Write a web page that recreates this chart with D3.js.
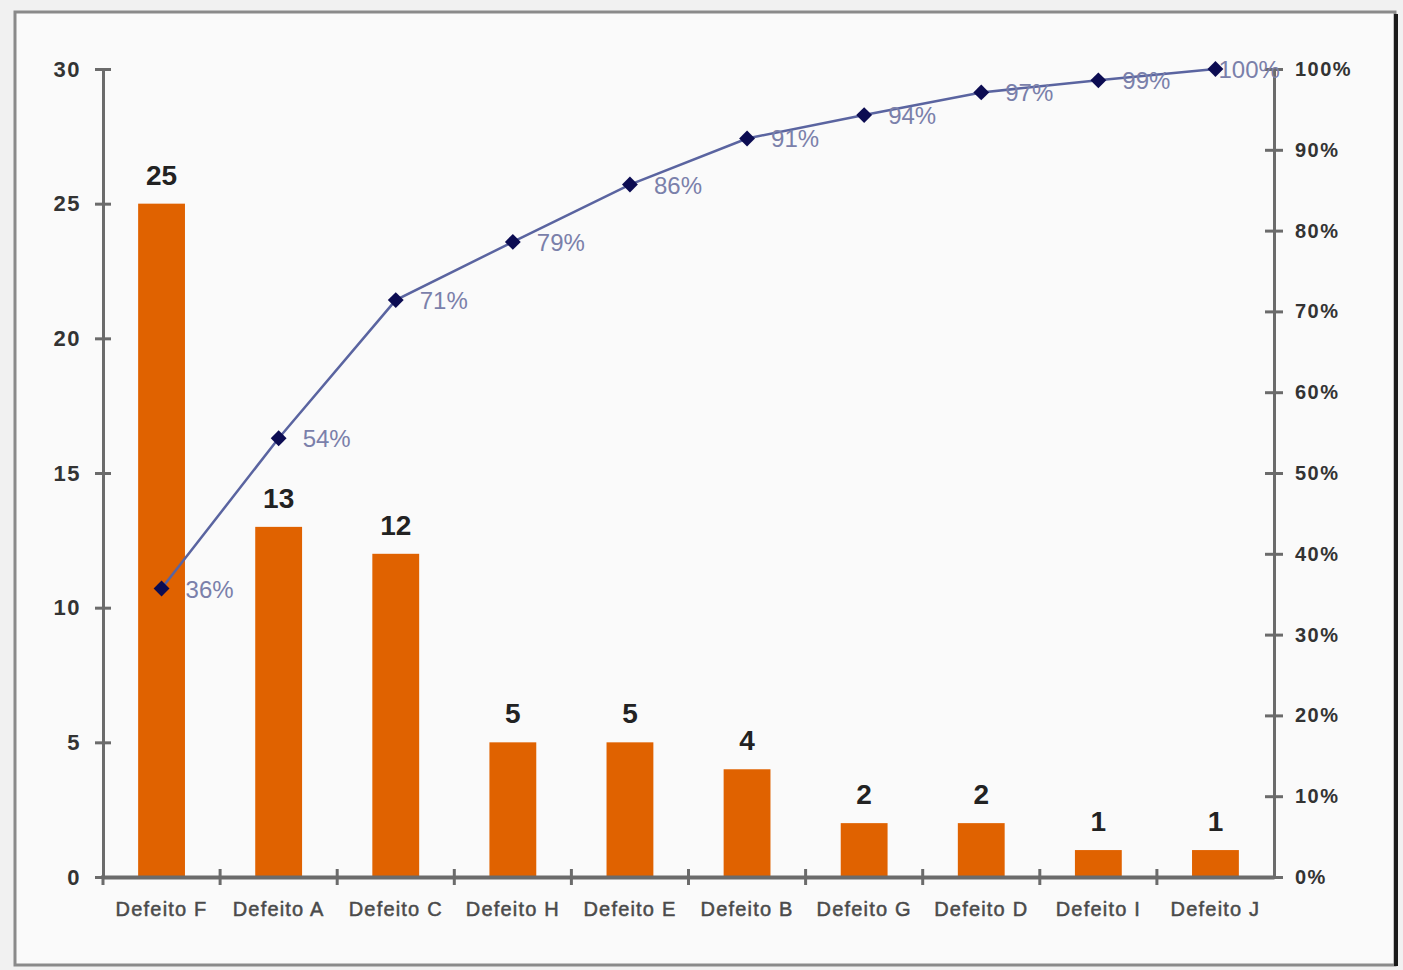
<!DOCTYPE html>
<html>
<head>
<meta charset="utf-8">
<script src="https://cdn.jsdelivr.net/npm/d3@7"></script>
<style>
  html, body { margin: 0; padding: 0; background: #f1f1f1; }
  svg text { font-family: "Liberation Sans", Arial, sans-serif; }
</style>
</head>
<body>
<div id="chart"></div>
<script>
const categories = ["Defeito F", "Defeito A", "Defeito C", "Defeito H", "Defeito E",
                    "Defeito B", "Defeito G", "Defeito D", "Defeito I", "Defeito J"];
const counts = [25, 13, 12, 5, 5, 4, 2, 2, 1, 1];
// cumulative share (%)
const cumulative = [35.7, 54.3, 71.4, 78.6, 85.7, 91.4, 94.3, 97.1, 98.6, 100];
const cumulativeLabels = ["36%", "54%", "71%", "79%", "86%", "91%", "94%", "97%", "99%", "100%"];
const leftTicks = [0, 5, 10, 15, 20, 25, 30];
const rightTicks = [0, 10, 20, 30, 40, 50, 60, 70, 80, 90, 100];

const W = 1403, H = 970;
const plot = { left: 103, right: 1274, top: 69, bottom: 877 };

const svg = d3.select("#chart").append("svg")
    .attr("width", W)
    .attr("height", H);

// frame
svg.append("rect")
    .attr("x", 15).attr("y", 12)
    .attr("width", 1380).attr("height", 953)
    .attr("fill", "#fafafa")
    .attr("stroke", "#8a8a8a")
    .attr("stroke-width", 3);
svg.append("line")
    .attr("x1", 1396).attr("x2", 1396)
    .attr("y1", 14).attr("y2", 966)
    .attr("stroke", "#1a1a1a")
    .attr("stroke-width", 4);

const x = d3.scaleBand()
    .domain(categories)
    .range([plot.left, plot.right])
    .paddingInner(0.6)
    .paddingOuter(0.3);

const y = d3.scaleLinear().domain([0, 30]).range([plot.bottom, plot.top]);
const yPct = d3.scaleLinear().domain([0, 100]).range([plot.bottom, plot.top]);

const axisColor = "#6b6b6b";

// bars
svg.selectAll(".bar")
    .data(counts)
    .enter()
    .append("rect")
    .attr("class", "bar")
    .attr("x", (d, i) => x(categories[i]))
    .attr("y", d => y(d))
    .attr("width", x.bandwidth())
    .attr("height", d => y(0) - y(d))
    .attr("fill", "#e06200");

svg.selectAll(".barLabel")
    .data(counts)
    .enter()
    .append("text")
    .attr("class", "barLabel")
    .attr("x", (d, i) => x(categories[i]) + x.bandwidth() / 2)
    .attr("y", d => y(d) - 19)
    .attr("text-anchor", "middle")
    .attr("font-size", 28)
    .attr("font-weight", "bold")
    .attr("fill", "#222")
    .text(d => d);

// left axis
const leftAxis = d3.axisLeft(y).tickValues(leftTicks).tickSize(0).tickPadding(0);
const gl = svg.append("g").attr("transform", `translate(${plot.left},0)`).call(leftAxis);
gl.select(".domain").attr("stroke", axisColor).attr("stroke-width", 3);
gl.selectAll(".tick line").remove();
gl.selectAll(".tick").append("line")
    .attr("x1", -8).attr("x2", 8)
    .attr("stroke", axisColor).attr("stroke-width", 3);
gl.selectAll(".tick text")
    .attr("x", -22)
    .attr("font-size", 22)
    .attr("font-weight", "bold")
    .attr("letter-spacing", 1.5)
    .attr("fill", "#333");

// right axis
const rightAxis = d3.axisRight(yPct).tickValues(rightTicks).tickSize(0).tickFormat(d => d + "%");
const gr = svg.append("g").attr("transform", `translate(${plot.right},0)`).call(rightAxis);
gr.select(".domain").attr("stroke", axisColor).attr("stroke-width", 3);
gr.selectAll(".tick").append("line")
    .attr("x1", -9).attr("x2", 9)
    .attr("stroke", axisColor).attr("stroke-width", 3);
gr.selectAll(".tick text")
    .attr("x", 21)
    .attr("font-size", 20)
    .attr("font-weight", "bold")
    .attr("letter-spacing", 1.5)
    .attr("fill", "#333");

// x axis
const xAxis = d3.axisBottom(x).tickSize(0).tickPadding(0);
const gx = svg.append("g").attr("transform", `translate(0,${plot.bottom})`).call(xAxis);
gx.select(".domain").attr("stroke", axisColor).attr("stroke-width", 4);
gx.selectAll(".tick text")
    .attr("y", 39)
    .attr("dy", 0)
    .attr("font-size", 20)
    .attr("letter-spacing", 1.2)
    .attr("fill", "#4a4a4a")
    .attr("stroke", "#4a4a4a")
    .attr("stroke-width", 0.5);
const step = x.step();
const boundaries = categories.slice(1).map(c => x(c) - (step - x.bandwidth()) / 2);
gx.selectAll(".sep")
    .data(boundaries)
    .enter()
    .append("line")
    .attr("class", "sep")
    .attr("x1", d => d).attr("x2", d => d)
    .attr("y1", -8).attr("y2", 8)
    .attr("stroke", axisColor).attr("stroke-width", 3);
gx.append("line")
    .attr("x1", plot.left).attr("x2", plot.left)
    .attr("y1", -2).attr("y2", 8)
    .attr("stroke", axisColor).attr("stroke-width", 3);

// cumulative line
const cx = i => x(categories[i]) + x.bandwidth() / 2;
const line = d3.line()
    .x((d, i) => cx(i))
    .y(d => yPct(d));

svg.append("path")
    .datum(cumulative)
    .attr("fill", "none")
    .attr("stroke", "#5a64a0")
    .attr("stroke-width", 2.5)
    .attr("d", line);

svg.selectAll(".marker")
    .data(cumulative)
    .enter()
    .append("path")
    .attr("class", "marker")
    .attr("d", d3.symbol().type(d3.symbolDiamond2).size(160))
    .attr("transform", (d, i) => `translate(${cx(i)},${yPct(d)})`)
    .attr("fill", "#0c0c52");

svg.selectAll(".pctLabel")
    .data(cumulative)
    .enter()
    .append("text")
    .attr("class", "pctLabel")
    .attr("x", (d, i) => i === cumulative.length - 1 ? cx(i) + 3 : cx(i) + 24)
    .attr("y", d => yPct(d) + 9)
    .attr("font-size", 24)
    .attr("fill", "#7a80aa")
    .text((d, i) => cumulativeLabels[i]);
</script>
</body>
</html>
